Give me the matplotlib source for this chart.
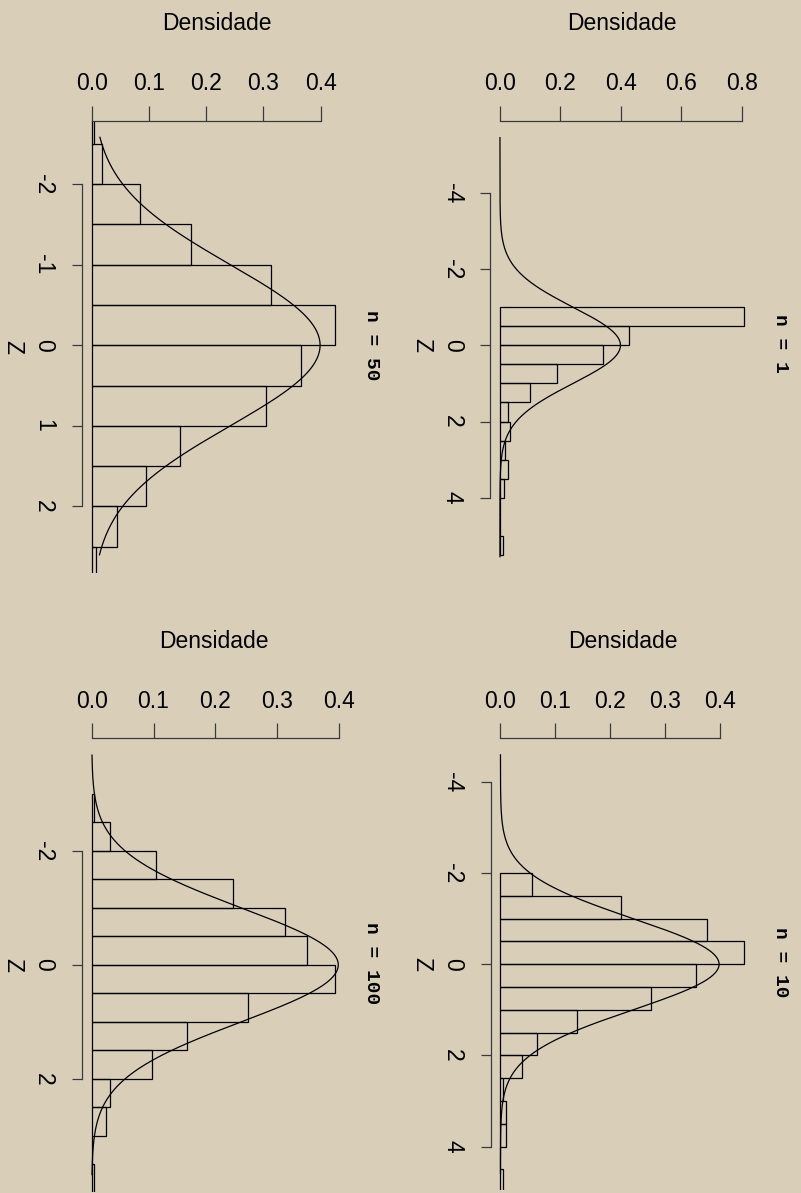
import numpy as np
import matplotlib
matplotlib.use("Agg")
import matplotlib.pyplot as plt

plt.rcParams['font.family'] = ['Liberation Sans', 'DejaVu Sans']
plt.rcParams['axes.unicode_minus'] = False

W, H = 801, 1193
BG = '#d9cfb9'

# panel order: top-left, top-right, bottom-left, bottom-right
n_labels = ['n = 50', 'n = 1', 'n = 100', 'n = 10']

# histogram densities, bins 0.5 wide starting at first_break
first_break = [-3.0, -1.0, -3.0, -2.0]
dens_50 = [0.0047, 0.0186, 0.085, 0.174, 0.314, 0.425, 0.366, 0.304,
           0.155, 0.094, 0.045, 0.0076]
dens_1 = [0.809, 0.428, 0.340, 0.189, 0.100, 0.025, 0.034, 0.017,
          0.025, 0.015, 0.0, 0.0, 0.009]
dens_100 = [0.004, 0.030, 0.104, 0.229, 0.313, 0.348, 0.394, 0.253,
            0.154, 0.098, 0.030, 0.023, 0.0, 0.0043]
dens_10 = [0.057, 0.220, 0.376, 0.445, 0.356, 0.275, 0.140, 0.066,
           0.040, 0.005, 0.011, 0.011, 0.0, 0.005]
all_dens = [dens_50, dens_1, dens_100, dens_10]

# range over which the N(0,1) density curve is drawn
curve_lo = [-2.58, -5.45, -3.68, -4.59]
curve_hi = [2.60, 5.55, 3.68, 4.59]

z_ticks = [[-2, -1, 0, 1, 2], [-4, -2, 0, 2, 4], [-2, 0, 2], [-4, -2, 0, 2, 4]]
dens_ticks = [[0, 0.1, 0.2, 0.3, 0.4], [0, 0.2, 0.4, 0.6, 0.8],
              [0, 0.1, 0.2, 0.3, 0.4], [0, 0.1, 0.2, 0.3, 0.4]]

# plot regions in pixels (left, top, width, height) and their limits
boxes = [(81.7, 120.5, 269.9, 452.5), (490.3, 120.5, 263.7, 449.6),
         (81.7, 738.0, 263.4, 453.7), (490.7, 738.0, 263.5, 452.4)]
xlims = [(-0.0175, 0.454), (-0.032, 0.841), (-0.0162, 0.41), (-0.0178, 0.463)]
zlims = [(-2.788, 2.826), (-5.9, 5.9), (-3.98, 3.98), (-4.96, 4.96)]
title_y = [23, 23, 641.6, 641.6]
zlab_x = [12.7, 421.7, 12.7, 421.7]
nlab_x = [371.7, 780, 371.7, 780]

fig = plt.figure(figsize=(W / 100, H / 100), dpi=100, facecolor=BG)
axcol = '#3a3a3a'
fs = 16.5

for i in range(4):
    l, t, w, h = boxes[i]
    ax = fig.add_axes([l / W, 1 - (t + h) / H, w / W, h / H])
    ax.set_facecolor('none')

    d = np.array(all_dens[i])
    edges = first_break[i] + 0.5 * np.arange(len(d))
    ax.barh(edges + 0.25, d, height=0.5, left=0, color='none',
            edgecolor='black', linewidth=0.9)

    z = np.linspace(curve_lo[i], curve_hi[i], 400)
    ax.plot(np.exp(-z ** 2 / 2) / np.sqrt(2 * np.pi), z, color='black', lw=0.9)

    ax.set_xlim(*xlims[i])
    ax.set_ylim(zlims[i][1], zlims[i][0])

    ax.spines['right'].set_visible(False)
    ax.spines['bottom'].set_visible(False)
    ax.spines['left'].set_bounds(z_ticks[i][0], z_ticks[i][-1])
    ax.spines['top'].set_bounds(dens_ticks[i][0], dens_ticks[i][-1])
    for s in ('left', 'top'):
        ax.spines[s].set_color(axcol)
        ax.spines[s].set_linewidth(0.9)

    ax.xaxis.tick_top()
    ax.set_xticks(dens_ticks[i])
    ax.set_xticklabels(['%.1f' % v for v in dens_ticks[i]])
    ax.set_yticks(z_ticks[i])
    ax.set_yticklabels([str(v) for v in z_ticks[i]])
    ax.tick_params(axis='x', direction='out', length=11, width=0.9, pad=7,
                   labelsize=fs, color=axcol)
    ax.tick_params(axis='y', direction='out', length=7.2, width=0.9, pad=12,
                   labelsize=fs, color=axcol, labelrotation=-90)
    for lb in ax.get_yticklabels():
        lb.set_va('center')

    ax.set_xlabel('Densidade', fontsize=fs)
    ax.xaxis.set_label_position('top')
    ax.xaxis.set_label_coords(0.5, 1 + (t - title_y[i]) / h)
    ax.xaxis.label.set_va('center')

    ax.set_ylabel('Z', fontsize=fs, rotation=-90)
    ax.yaxis.set_label_coords((zlab_x[i] - l) / w, 0.5)
    ax.yaxis.label.set_va('center')
    ax.yaxis.label.set_ha('center')

    fig.text(nlab_x[i] / W, 1 - (t + h / 2 - 2) / H, n_labels[i],
             rotation=-90, fontsize=14, fontweight='bold',
             family=['Liberation Mono', 'DejaVu Sans Mono'],
             ha='center', va='center')

fig.savefig('out.png', dpi=100, facecolor=BG)
